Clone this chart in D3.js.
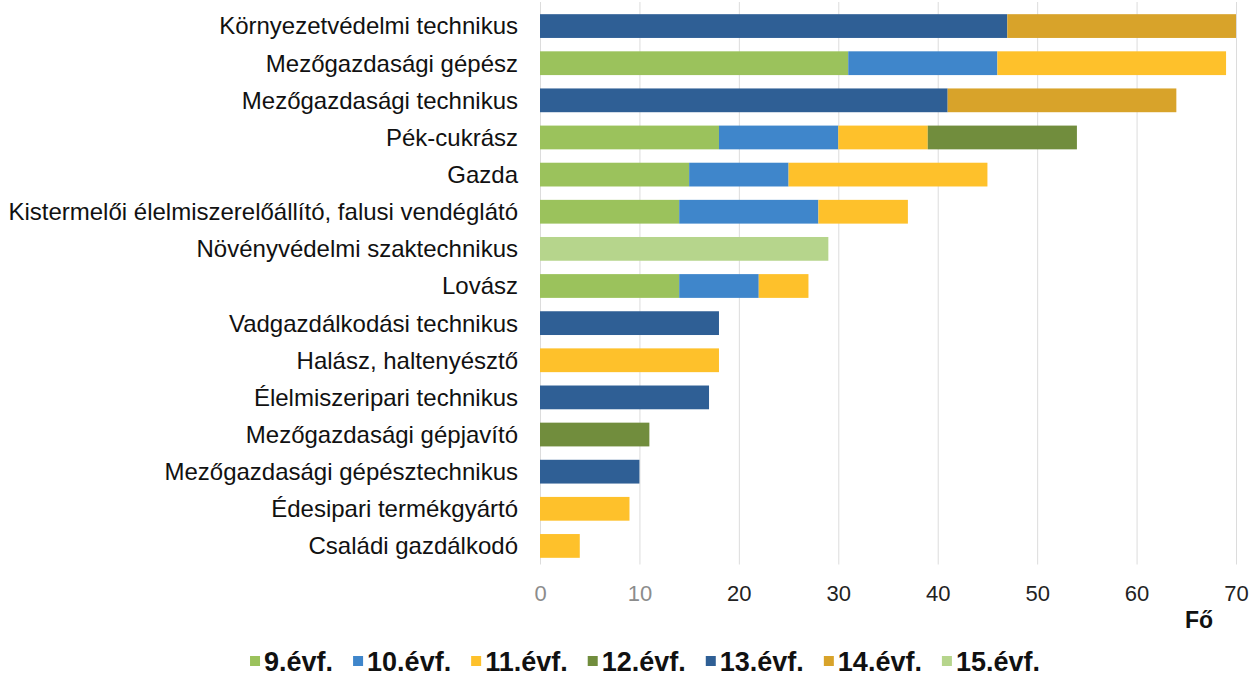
<!DOCTYPE html>
<html>
<head>
<meta charset="utf-8">
<script src="https://cdn.jsdelivr.net/npm/d3@7"></script>
<style>
  body { margin: 0; background: #fff; }
  text { font-family: "Liberation Sans", Arial, sans-serif; }
</style>
</head>
<body>
<div id="chart"></div>
<script>
// szakmák (felülről lefelé)
var categories = [
  "Környezetvédelmi technikus",
  "Mezőgazdasági gépész",
  "Mezőgazdasági technikus",
  "Pék-cukrász",
  "Gazda",
  "Kistermelői élelmiszerelőállító, falusi vendéglátó",
  "Növényvédelmi szaktechnikus",
  "Lovász",
  "Vadgazdálkodási technikus",
  "Halász, haltenyésztő",
  "Élelmiszeripari technikus",
  "Mezőgazdasági gépjavító",
  "Mezőgazdasági gépésztechnikus",
  "Édesipari termékgyártó",
  "Családi gazdálkodó"
];
var seriesNames = ["9.évf.", "10.évf.", "11.évf.", "12.évf.", "13.évf.", "14.évf.", "15.évf."];
var evf9  = [0, 31, 0, 18, 15, 14, 0, 14, 0, 0, 0, 0, 0, 0, 0];
var evf10 = [0, 15, 0, 12, 10, 14, 0, 8, 0, 0, 0, 0, 0, 0, 0];
var evf11 = [0, 23, 0, 9, 20, 9, 0, 5, 0, 18, 0, 0, 0, 9, 4];
var evf12 = [0, 0, 0, 15, 0, 0, 0, 0, 0, 0, 0, 11, 0, 0, 0];
var evf13 = [47, 0, 41, 0, 0, 0, 0, 0, 18, 0, 17, 0, 10, 0, 0];
var evf14 = [23, 0, 23, 0, 0, 0, 0, 0, 0, 0, 0, 0, 0, 0, 0];
var evf15 = [0, 0, 0, 0, 0, 0, 29, 0, 0, 0, 0, 0, 0, 0, 0];
var colors = ["#9bc25c", "#3f86cb", "#fec12b", "#718d3d", "#2f5f95", "#d8a32a", "#b6d58c"];
var xTicks = [0, 10, 20, 30, 40, 50, 60, 70];

var W = 1255, H = 686;
var plotLeft = 540, plotRight = 1236, plotTop = 7.5, plotBottom = 564.5;

var allSeries = [evf9, evf10, evf11, evf12, evf13, evf14, evf15];
var rows = categories.map(function(c, i){
  var r = {name: c};
  seriesNames.forEach(function(s, k){ r[s] = allSeries[k][i]; });
  return r;
});
var stacked = d3.stack().keys(seriesNames)(rows);

var svg = d3.select("#chart").append("svg")
  .attr("width", W).attr("height", H);

var x = d3.scaleLinear().domain([0, 70]).range([plotLeft, plotRight]);
var y = d3.scaleBand().domain(categories).range([plotTop, plotBottom])
  .paddingInner(0.36).paddingOuter(0.18);

// rácsvonalak + tengelyfeliratok
var xAxis = svg.append("g")
  .attr("transform", "translate(0," + plotBottom + ")")
  .call(d3.axisBottom(x).tickValues(xTicks).tickSizeInner(-(plotBottom - 2)).tickSizeOuter(0).tickPadding(21));
xAxis.select(".domain").remove();
xAxis.selectAll("line").attr("stroke", "#dcdcdc");
xAxis.selectAll("text")
  .attr("font-size", 22)
  .attr("fill", function(d){ return d < 20 ? "#8c8c8c" : "#222"; });

// sávok
svg.append("g").selectAll("g")
  .data(stacked)
  .enter().append("g")
  .attr("fill", function(d, i){ return colors[i]; })
  .selectAll("rect")
  .data(function(d){ return d; })
  .enter().append("rect")
  .attr("x", function(d){ return x(d[0]); })
  .attr("y", function(d){ return y(d.data.name); })
  .attr("width", function(d){ return x(d[1]) - x(d[0]); })
  .attr("height", y.bandwidth());

// kategória feliratok
svg.append("g").selectAll("text")
  .data(categories)
  .enter().append("text")
  .attr("x", 518)
  .attr("y", function(d){ return y(d) + y.bandwidth() / 2; })
  .attr("dy", "0.35em")
  .attr("text-anchor", "end")
  .attr("font-size", 24)
  .attr("fill", "#111")
  .text(function(d){ return d; });

// tengelycím
svg.append("text")
  .attr("x", 1199).attr("y", 628)
  .attr("text-anchor", "middle")
  .attr("font-size", 23)
  .attr("font-weight", "bold")
  .attr("fill", "#111")
  .text("Fő");

// jelmagyarázat
var legend = svg.append("g");
var lx = 0;
seriesNames.forEach(function(s, i){
  var g = legend.append("g").attr("transform", "translate(" + lx + ",0)");
  g.append("rect").attr("x", 0).attr("y", -5).attr("width", 10).attr("height", 10)
    .attr("fill", colors[i]);
  var t = g.append("text").attr("x", 14).attr("y", 0).attr("dy", "0.36em")
    .attr("font-size", 27).attr("font-weight", "bold").attr("fill", "#111")
    .text(s);
  lx += 14 + t.node().getComputedTextLength() + 20;
});
lx -= 20;
legend.attr("transform", "translate(" + (645 - lx / 2) + ",661)");
</script>
</body>
</html>
